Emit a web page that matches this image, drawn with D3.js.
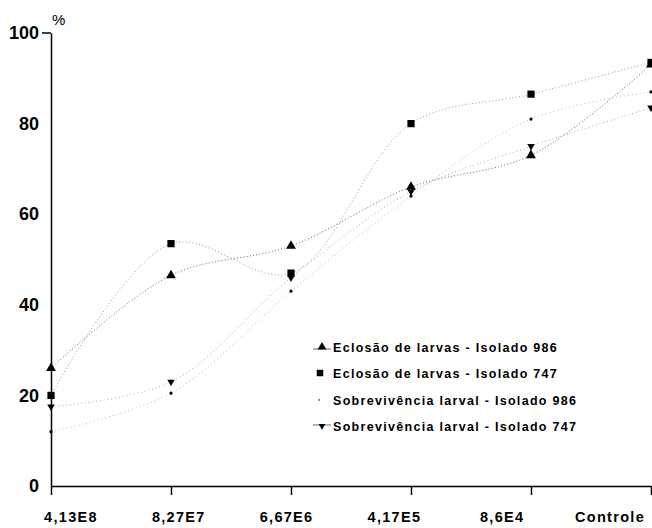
<!DOCTYPE html>
<html>
<head>
<meta charset="utf-8">
<script src="https://cdn.jsdelivr.net/npm/d3@7"></script>
<style>
  html, body { margin: 0; padding: 0; background: #fff; }
  svg { display: block; }
</style>
</head>
<body>
<svg id="chart" width="652" height="528"></svg>
<script>
// ---- data ----
const categories = ["4,13E8", "8,27E7", "6,67E6", "4,17E5", "8,6E4", "Controle"];
const yTicks = [0, 20, 40, 60, 80, 100];
const seriesNames = [
  "Eclosão de larvas - Isolado 986",
  "Eclosão de larvas - Isolado 747",
  "Sobrevivência larval - Isolado 986",
  "Sobrevivência larval - Isolado 747"
];
const eclosao986 = [26, 46.5, 53, 66, 73, 93];
const eclosao747 = [20, 53.5, 47, 80, 86.5, 93.5];
const sobrev986 = [12, 20.5, 43, 64, 81, 87];
const sobrev747 = [17.5, 23, 46, 65, 75, 83.5];

// ---- setup ----
const svg = d3.select("#chart");
const x = d3.scalePoint().domain(categories).range([51, 651]);
const xLabel = d3.scalePoint().domain(categories).range([71, 610]);
const y = d3.scaleLinear().domain([0, 100]).range([486, 33]);

const styles = [
  { data: eclosao986, stroke: "#666", dash: "1,2.2", symbol: d3.symbolTriangle, size: 42, rotate: 0 },
  { data: eclosao747, stroke: "#999", dash: "1,2.4", symbol: d3.symbolSquare, size: 52, rotate: 0 },
  { data: sobrev986, stroke: "#bbb", dash: "1,3", symbol: d3.symbolCircle, size: 8, rotate: 0 },
  { data: sobrev747, stroke: "#aaa", dash: "1,2.8", symbol: d3.symbolTriangle, size: 24, rotate: 180 }
];

// ---- lines ----
const line = d3.line()
  .x((d, i) => x(categories[i]))
  .y(d => y(d))
  .curve(d3.curveCatmullRom.alpha(0.5));

styles.forEach(s => {
  svg.append("path")
    .datum(s.data)
    .attr("fill", "none")
    .attr("stroke", s.stroke)
    .attr("stroke-width", 1)
    .attr("stroke-dasharray", s.dash)
    .attr("d", line);
});

// ---- markers ----
styles.forEach(s => {
  svg.append("g").selectAll("path")
    .data(s.data)
    .join("path")
    .attr("d", d3.symbol().type(s.symbol).size(s.size))
    .attr("transform", (d, i) => `translate(${x(categories[i])},${y(d)}) rotate(${s.rotate})`)
    .attr("fill", "#000");
});

// ---- axes ----
const yAxis = d3.axisLeft(y).tickValues(yTicks).tickSize(0).tickPadding(12);
const gy = svg.append("g").attr("transform", "translate(51,0)").call(yAxis);
gy.select(".domain").attr("stroke", "#000").attr("stroke-width", 1.5);
gy.selectAll("text")
  .attr("font-family", "Liberation Sans, Arial, sans-serif")
  .attr("font-size", 18)
  .attr("font-weight", "bold")
  .attr("fill", "#000");
// tick at top
svg.append("line")
  .attr("x1", 42).attr("x2", 51)
  .attr("y1", y(yTicks[yTicks.length - 1])).attr("y2", y(yTicks[yTicks.length - 1]))
  .attr("stroke", "#000").attr("stroke-width", 1.5);

const xAxis = d3.axisBottom(x).tickSizeInner(9).tickSizeOuter(0).tickFormat("");
const gx = svg.append("g").attr("transform", `translate(0,${y(0)})`).call(xAxis);
gx.select(".domain").attr("stroke", "#000").attr("stroke-width", 1.5);
gx.selectAll(".tick line").attr("stroke", "#000").attr("stroke-width", 1.5);

svg.append("g").selectAll("text")
  .data(categories)
  .join("text")
  .attr("x", d => xLabel(d))
  .attr("y", 522)
  .attr("text-anchor", "middle")
  .attr("font-family", "Liberation Sans, Arial, sans-serif")
  .attr("font-size", 14.5)
  .attr("font-weight", "bold")
  .attr("letter-spacing", 1.3)
  .attr("fill", "#000")
  .text(d => d);

svg.append("text")
  .attr("x", 52).attr("y", 25)
  .attr("font-family", "Liberation Sans, Arial, sans-serif")
  .attr("font-size", 15)
  .attr("fill", "#000")
  .text("%");

// ---- legend ----
const legendY = [347, 373, 400, 426];
const legendMarkX = [322, 320, 319, 322];
const lg = svg.append("g");
seriesNames.forEach((name, i) => {
  const s = styles[i];
  if (i === 0 || i === 3) {
    lg.append("line")
      .attr("x1", 313).attr("x2", 331)
      .attr("y1", legendY[i] + (i === 0 ? 2 : -1)).attr("y2", legendY[i] + (i === 0 ? 2 : -1))
      .attr("stroke", "#666").attr("stroke-width", 1);
  }
  lg.append("path")
    .attr("d", d3.symbol().type(s.symbol).size(i === 2 ? 4 : s.size * 0.8))
    .attr("transform", `translate(${legendMarkX[i]},${legendY[i]}) rotate(${s.rotate})`)
    .attr("fill", i === 2 ? "#888" : "#000");
  lg.append("text")
    .attr("x", 333).attr("y", legendY[i])
    .attr("dy", "0.36em")
    .attr("font-family", "Liberation Sans, Arial, sans-serif")
    .attr("font-size", 12.5)
    .attr("font-weight", "bold")
    .attr("letter-spacing", 1.3)
    .attr("fill", "#000")
    .text(name);
});
</script>
</body>
</html>
